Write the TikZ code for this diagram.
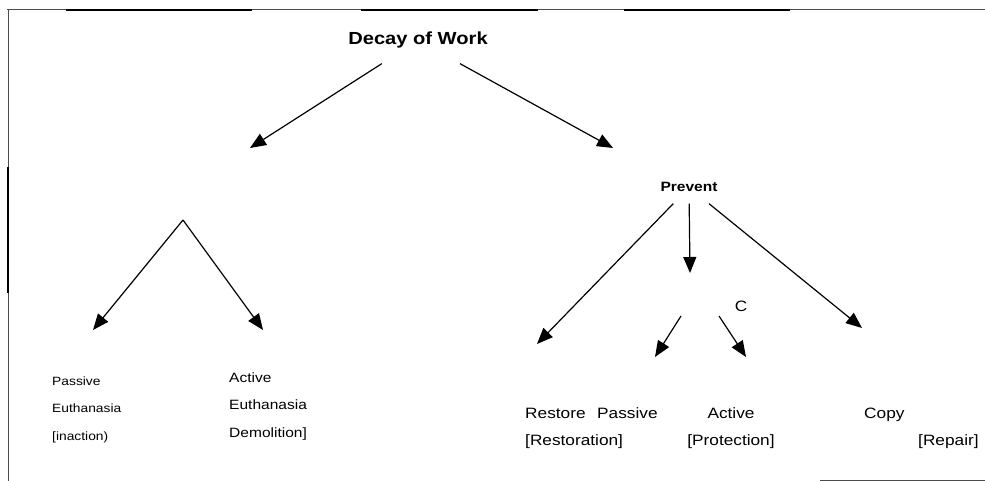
\documentclass[tikz,border=0pt]{standalone}
\usepackage{fontspec}
\setmainfont{Liberation Sans}
\usetikzlibrary{arrows.meta}
\tikzset{
  arr/.style={-{Triangle[length=16pt,width=13pt]}, line width=1.2pt},
  lbl/.style={inner sep=0pt, xscale=1.15, align=left, anchor=base west},
  frame/.style={line width=1pt, black!70},
}
\begin{document}
\begin{tikzpicture}[x=1pt,y=1pt]
\useasboundingbox (0,0) rectangle (985,-481);
% frame
\draw[frame] (7,-10) -- (985,-10);
\draw[frame] (8,-10) -- (8,-481);
\draw[frame] (820,-480) -- (985,-480);
\draw[line width=2pt] (66,-10) -- (252,-10);
\draw[line width=2pt] (361,-10) -- (538,-10);
\draw[line width=2pt] (624,-10) -- (790,-10);
\draw[line width=2pt] (8,-167) -- (8,-293);
% title and Prevent
\node[lbl, anchor=base, font=\bfseries\fontsize{17.5}{20}\selectfont, outer ysep=15pt] (decay) at (418,-45) {Decay of Work};
\node[lbl, anchor=base, font=\bfseries\fontsize{13.5}{16}\selectfont, outer ysep=11.5pt] (prevent) at (689,-192) {Prevent};
\node[lbl, anchor=base, font=\fontsize{15}{18}\selectfont] (c) at (741,-311) {C};
% arrow ends
\coordinate (lefttip) at (250,-148);
\coordinate (righttip) at (613,-148);
\coordinate (apex) at (183,-220);
\coordinate (passtip) at (93,-330);
\coordinate (acttip) at (263,-330);
\coordinate (restip) at (537,-344);
\coordinate (midtip) at (690,-273);
\coordinate (copytip) at (862,-328);
\coordinate (cleft) at (681,-316);
\coordinate (cright) at (719,-316);
\coordinate (passrtip) at (655,-357);
\coordinate (protip) at (746,-357);
% labels (base = last line)
\node[lbl, font=\fontsize{12}{27.5}\selectfont] (passeuth) at (52,-440) {Passive\\Euthanasia\\{[}inaction)};
\node[lbl, font=\fontsize{13.5}{27.5}\selectfont] (acteuth) at (229,-437) {Active\\Euthanasia\\Demolition]};
\node[lbl, font=\fontsize{15}{27}\selectfont] (restore) at (525,-445) {Restore\\{[}Restoration]};
\node[lbl, font=\fontsize{15}{27}\selectfont] (passive) at (597,-418) {Passive};
\node[lbl, anchor=base, align=center, font=\fontsize{15}{27}\selectfont] (active) at (731,-445) {Active\\{[}Protection]};
\node[lbl, font=\fontsize{15}{27}\selectfont] (copy) at (864,-418) {Copy};
\node[lbl, font=\fontsize{15}{27}\selectfont] (repair) at (918,-445) {[Repair]};
% arrows
\draw[arr] (decay) -- (lefttip);
\draw[arr] (decay) -- (righttip);
\draw[arr] (apex) -- (passtip);
\draw[arr] (apex) -- (acttip);
\draw[arr] (prevent) -- (restip);
\draw[arr] (prevent) -- (midtip);
\draw[arr] (prevent) -- (copytip);
\draw[arr] (cleft) -- (passrtip);
\draw[arr] (cright) -- (protip);
\end{tikzpicture}
\end{document}
